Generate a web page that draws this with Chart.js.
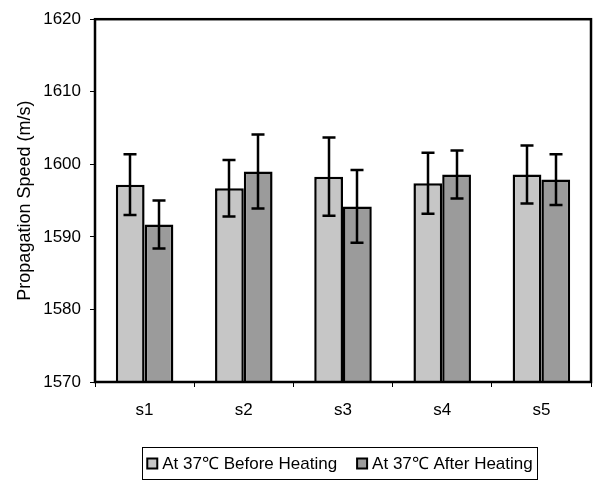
<!DOCTYPE html>
<html>
<head>
<meta charset="utf-8">
<script src="https://cdn.jsdelivr.net/npm/chart.js@4"></script>
<style>
html,body{margin:0;padding:0;background:#fff;}
#wrap{width:593px;height:481px;position:relative;}
</style>
</head>
<body>
<div id="wrap"><canvas id="c" width="593" height="481"></canvas></div>
<script>
const categories = ['s1', 's2', 's3', 's4', 's5'];
const seriesNames = ['At 37\u2103 Before Heating', 'At 37\u2103 After Heating'];
const beforeValues = [1597.2, 1596.7, 1598.3, 1597.4, 1598.6];
const beforeErrors = [4.2, 3.9, 5.4, 4.2, 4.0];
const afterValues = [1591.7, 1599.0, 1594.2, 1598.6, 1597.9];
const afterErrors = [3.3, 5.1, 5.0, 3.3, 3.5];
const yMin = 1570, yMax = 1620, yStep = 10;

const FONT = '"Liberation Sans", Arial, sans-serif';
const colors = ['#c6c6c6', '#9b9b9b'];

const frameAndErrors = {
  id: 'frameAndErrors',
  afterDatasetsDraw(chart) {
    const ctx = chart.ctx;
    const y = chart.scales.y;
    const errs = [beforeErrors, afterErrors];
    ctx.save();
    ctx.strokeStyle = '#000';
    ctx.lineWidth = 2.5;
    chart.data.datasets.forEach((ds, di) => {
      const meta = chart.getDatasetMeta(di);
      meta.data.forEach((bar, i) => {
        const v = ds.data[i], e = errs[di][i];
        const x = Math.round(bar.x);
        const yt = y.getPixelForValue(v + e);
        const yb = y.getPixelForValue(v - e);
        ctx.beginPath();
        ctx.moveTo(x, yt); ctx.lineTo(x, yb);
        ctx.moveTo(x - 6.5, yt); ctx.lineTo(x + 6.5, yt);
        ctx.moveTo(x - 6.5, yb); ctx.lineTo(x + 6.5, yb);
        ctx.stroke();
      });
    });
    const a = chart.chartArea;
    ctx.lineWidth = 2.5;
    ctx.strokeRect(a.left, a.top, a.right - a.left, a.bottom - a.top);
    ctx.restore();
  },
  afterDraw(chart) {
    const ctx = chart.ctx;
    ctx.save();
    ctx.font = '17px ' + FONT;
    ctx.textBaseline = 'middle';
    const box = 10, gap = 5, itemGap = 20, pad = 5;
    const labels = chart.data.datasets.map(d => d.label);
    const widths = labels.map(t => ctx.measureText(t).width);
    let total = 0;
    widths.forEach((w, i) => { total += box + gap + w + (i < widths.length - 1 ? itemGap : 0); });
    const cx = 340, cy = 463.5;
    let x = cx - total / 2;
    ctx.strokeStyle = '#000';
    ctx.lineWidth = 1;
    ctx.strokeRect(Math.round(x - pad) + 0.5, 447.5, Math.round(total + 2 * pad), 32);
    labels.forEach((t, i) => {
      ctx.fillStyle = chart.data.datasets[i].backgroundColor;
      ctx.fillRect(x, cy - box / 2, box, box);
      ctx.lineWidth = 2;
      ctx.strokeRect(x, cy - box / 2, box, box);
      ctx.fillStyle = '#000';
      ctx.fillText(t, x + box + gap, cy + 1);
      x += box + gap + widths[i] + itemGap;
    });
    ctx.restore();
  }
};

new Chart(document.getElementById('c'), {
  type: 'bar',
  data: {
    labels: categories,
    datasets: [
      { label: seriesNames[0], data: beforeValues, backgroundColor: colors[0], borderColor: '#000', borderWidth: 2.5, base: yMin },
      { label: seriesNames[1], data: afterValues, backgroundColor: colors[1], borderColor: '#000', borderWidth: 2.5, base: yMin }
    ]
  },
  options: {
    responsive: false,
    animation: false,
    devicePixelRatio: 1,
    layout: { padding: { top: 17, right: 2, left: 0, bottom: 0 } },
    datasets: { bar: { categoryPercentage: 0.58, barPercentage: 1.0 } },
    plugins: { legend: { display: false }, tooltip: { enabled: false } },
    scales: {
      x: {
        afterFit(s) { s.height = 99; },
        grid: { display: true, drawOnChartArea: false, drawTicks: true, tickLength: 5, color: '#000', lineWidth: 1, offset: true },
        border: { display: false },
        ticks: { color: '#000', font: { family: FONT, size: 17 }, padding: 13 }
      },
      y: {
        min: yMin, max: yMax,
        afterFit(s) { s.width = 95; },
        grid: { display: true, drawOnChartArea: false, drawTicks: true, tickLength: 5, color: '#000', lineWidth: 1 },
        border: { display: false },
        ticks: { stepSize: yStep, color: '#000', font: { family: FONT, size: 17 }, padding: 9, callback: v => String(v) },
        title: { display: true, text: 'Propagation Speed (m/s)', color: '#000', font: { family: FONT, size: 18 }, padding: { top: 14, bottom: 0 } }
      }
    }
  },
  plugins: [frameAndErrors]
});
</script>
</body>
</html>
